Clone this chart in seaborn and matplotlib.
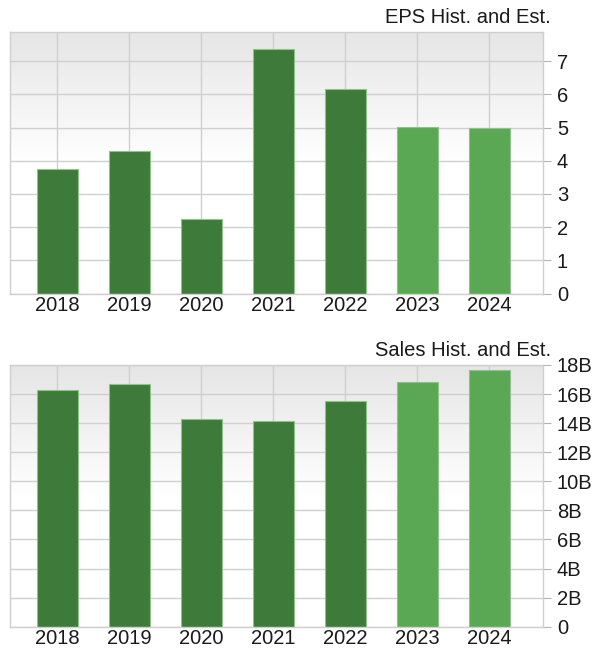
import numpy as np
import matplotlib
matplotlib.use("Agg")
import matplotlib.pyplot as plt
import seaborn as sns
from matplotlib.ticker import FuncFormatter, MultipleLocator

sns.set_style("white")
plt.rcParams["font.family"] = ["Liberation Sans", "DejaVu Sans"]

# --- data ---
years = ["2018", "2019", "2020", "2021", "2022", "2023", "2024"]
is_estimate = [False, False, False, False, False, True, True]
eps = [3.74, 4.29, 2.26, 7.36, 6.16, 5.02, 4.98]
sales_b = [16.26, 16.70, 14.31, 14.15, 15.53, 16.81, 17.66]  # billions

HIST_COLOR = "#3e7a3a"
EST_COLOR = "#5ba854"
GRID_COLOR = "#cfcfcf"
FS = 14.5
palette = {y: (EST_COLOR if e else HIST_COLOR) for y, e in zip(years, is_estimate)}

W, H = 598, 663
fig = plt.figure(figsize=(W / 100, H / 100), dpi=100)

# axes boxes in pixels: left, right, top, bottom
def px_axes(l, r, t, b):
    return fig.add_axes([l / W, (H - b) / H, (r - l) / W, (b - t) / H])

ax_eps = px_axes(10, 543, 32, 293.5)
ax_sales = px_axes(10, 543, 365, 626.7)

# vertical gradient: white in lower half, light grey at the top
n = 256
f = np.linspace(1, 0, n)
mix = np.clip((f - 0.5) / 0.5, 0, 1)
top_rgb = np.array([0.90, 0.90, 0.90])
grad = 1 - mix[:, None] * (1 - top_rgb)[None, :]
grad = grad[:, None, :]


def style_panel(ax, values, ylim, title, formatter, step):
    ax.imshow(grad, extent=[0, 1, 0, 1], transform=ax.transAxes,
              aspect="auto", zorder=0, interpolation="bilinear")
    sns.barplot(x=years, y=values, hue=years, palette=palette, legend=False,
                width=0.57, edgecolor="#8cc487", linewidth=0.8,
                saturation=1, ax=ax, zorder=2)
    ax.set_xlim(-0.66, 6.75)
    ax.set_ylim(*ylim)
    ax.yaxis.set_major_locator(MultipleLocator(step))
    ax.yaxis.set_major_formatter(formatter)
    ax.yaxis.tick_right()
    ax.set_axisbelow(True)
    ax.grid(True, color=GRID_COLOR, linewidth=1, zorder=1)
    ax.set_xlabel("")
    ax.set_ylabel("")
    for sp in ax.spines.values():
        sp.set_visible(True)
        sp.set_color(GRID_COLOR)
        sp.set_linewidth(1)
    ax.tick_params(axis="y", which="both", right=True, left=False,
                   length=6, color="#b5b5b5", pad=4,
                   labelsize=FS, labelcolor="#1a1a1a")
    ax.tick_params(axis="x", length=0, pad=1.5, labelsize=FS,
                   labelcolor="#1a1a1a")
    ax.annotate(title, xy=(1, 1), xycoords="axes fraction",
                xytext=(8, 9), textcoords="offset pixels",
                ha="right", va="baseline", fontsize=FS, color="#1a1a1a")


style_panel(ax_eps, eps, (0, 7.88), "EPS Hist. and Est.",
            FuncFormatter(lambda v, p: f"{v:.0f}"), 1)
style_panel(ax_sales, sales_b, (0, 18), "Sales Hist. and Est.",
            FuncFormatter(lambda v, p: "0" if v == 0 else f"{v:.0f}B"), 2)

fig.savefig("out.png", dpi=100)
